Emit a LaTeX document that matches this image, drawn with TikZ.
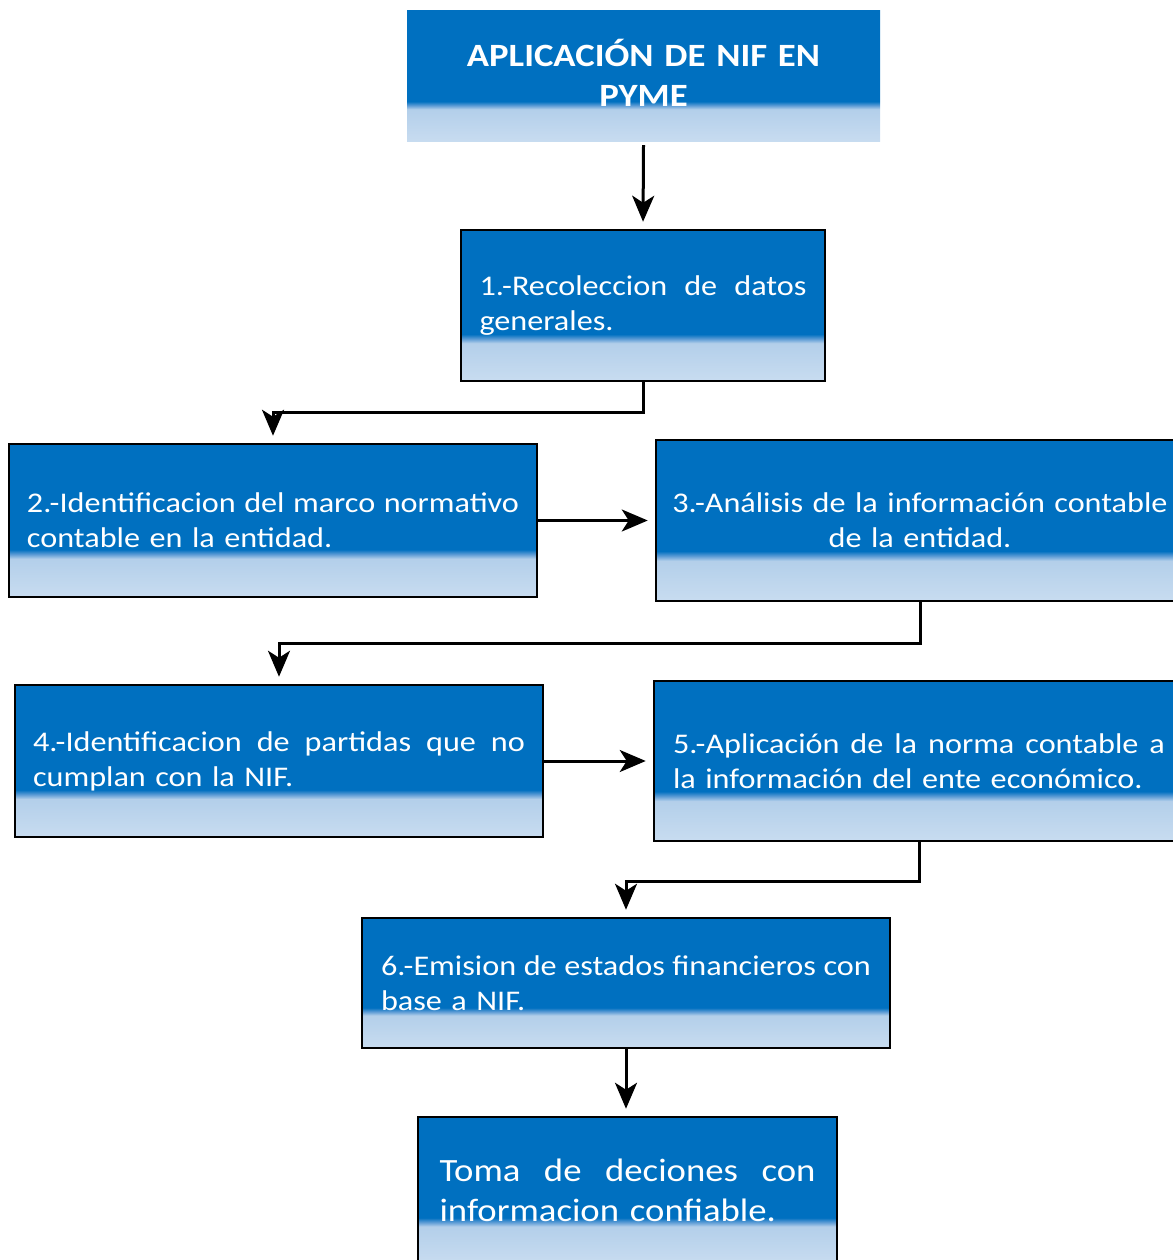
\documentclass[tikz,border=0pt]{standalone}
\usepackage{fontspec}
\setmainfont{Carlito}[FakeStretch=1.13]
\usetikzlibrary{arrows.meta}
\definecolor{dkblue}{HTML}{0070C0}
\definecolor{midblue}{HTML}{5B9BD5}
\definecolor{ltblue}{HTML}{B3CFEA}
\definecolor{ltbot}{HTML}{C8DCF0}
\pgfdeclareverticalshading{nifshade}{100bp}{color(0bp)=(ltbot); color(25bp)=(ltbot); color(37.5bp)=(ltblue); color(39bp)=(midblue); color(40.5bp)=(dkblue); color(100bp)=(dkblue)}
\tikzset{
  box/.style={draw=black, line width=2.5pt, shading=nifshade, inner sep=0pt, text=white,
    font=\fontsize{28.5}{35}\selectfont, align=left},
  titlebox/.style={shading=nifshade, inner sep=0pt},
  titletext/.style={inner sep=0pt, text=white, font=\fontsize{32.5}{40}\selectfont\bfseries, align=center},
  arr/.style={line width=3pt, -{Stealth[length=26pt,width=22pt,inset=7pt]}, shorten >=7pt},
}
\newcommand{\jline}[1]{\hbox to \hsize{\spaceskip=0.226em plus 1fil\relax #1}}
\begin{document}
\begin{tikzpicture}[x=1pt,y=-1pt]
\useasboundingbox (0,0) rectangle (1172,1260);
\node[titlebox, minimum width=473pt, minimum height=131pt] (t) at (643.5,76.5) {};
\node[titletext, text width=440pt] (tt) at (643.5,73) {APLICACIÓN DE NIF EN\\PYME};
\node[box, minimum width=364pt, minimum height=151pt, text width=327pt] (b1) at (643,305.5)
  {\jline{1.-Recoleccion de datos}\\generales.};
\node[box, minimum width=528pt, minimum height=153pt, text width=492pt] (b2) at (273,520.5)
  {\jline{2.-Identificacion del marco normativo}\\contable en la entidad.};
\node[box, minimum width=528pt, minimum height=161pt, text width=520pt, align=center] (b3) at (920,520.5)
  {3.-Análisis de la información contable\\de la entidad.};
\node[box, minimum width=528pt, minimum height=152pt, text width=492pt] (b4) at (279,761)
  {\jline{4.-Identificacion de partidas que no}\\cumplan con la NIF.};
\node[box, minimum width=530pt, minimum height=160pt, text width=492pt] (b5) at (919,761)
  {\jline{5.-Aplicación de la norma contable a}\\la información del ente económico.};
\node[box, minimum width=528pt, minimum height=130pt, text width=490pt] (b6) at (626,983)
  {\jline{6.-Emision de estados financieros con}\\base a NIF.};
\node[box, minimum width=419pt, minimum height=146pt, text width=376pt, font=\fontsize{32.5}{40}\selectfont] (b7) at (627.5,1190)
  {\jline{Toma de deciones con}\\informacion confiable.};
\draw[arr] ([yshift=-3pt]t.south) -- (b1.north);
\draw[arr] (b1.south) -- ++(0,30) -| (b2.north);
\draw[arr] (b2.east) -- (b3.west);
\draw[arr] (b3.south) -- ++(0,41) -| (b4.north);
\draw[arr] (b4.east) -- (b5.west);
\draw[arr] (b5.south) -- ++(0,39) -| (b6.north);
\draw[arr] (b6.south) -- (b6.south |- b7.north);
\end{tikzpicture}
\end{document}
